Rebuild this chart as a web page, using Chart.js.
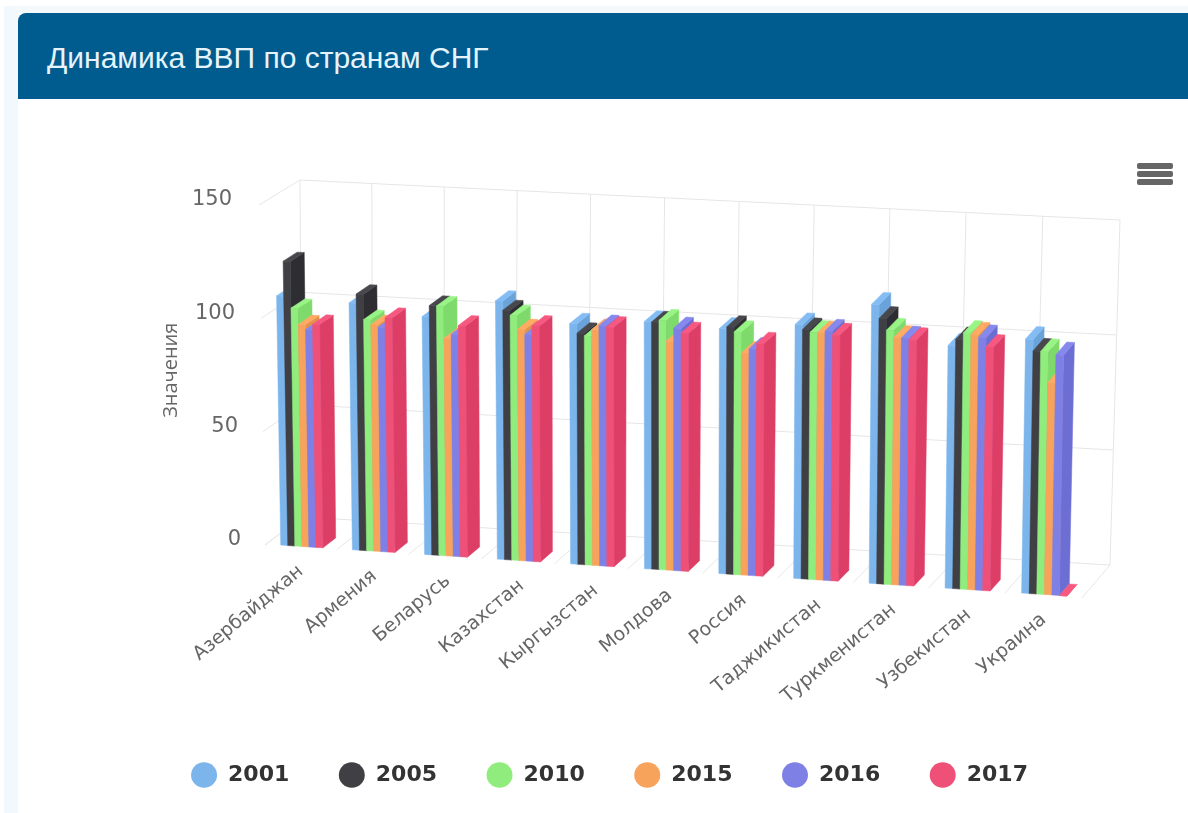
<!DOCTYPE html>
<html>
<head>
<meta charset="utf-8">
<title>Динамика ВВП по странам СНГ</title>
<script src="https://cdn.jsdelivr.net/npm/chart.js@4"></script>
<style>
    html, body { margin: 0; padding: 0; background: #fff; overflow: hidden; }
    #page { position: relative; width: 1188px; height: 813px; overflow: hidden; }
    #topband { position: absolute; left: 4px; top: 6px; width: 1184px; height: 7px; background: #f6f9fc; }
    #strip { position: absolute; left: 4px; top: 6px; width: 14px; height: 807px; background: #f1f8fe; }
    #header { position: absolute; left: 18px; top: 13px; width: 1170px; height: 86px; background: #005b8f; border-top-left-radius: 8px; }
    #title { position: absolute; left: 29px; top: 28px; font: 30px "Liberation Sans", Arial, sans-serif; color: #e6f3fa; white-space: nowrap; }
    #chartBox { position: absolute; left: 0; top: 0; width: 1188px; height: 813px; }
    #menu { position: absolute; left: 1137px; top: 163px; width: 36px; }
    #menu div { height: 5.5px; margin-bottom: 2.5px; background: #666; border-radius: 2px; }
</style>
</head>
<body>
<div id="page">
    <div id="topband"></div>
    <div id="strip"></div>
    <div id="chartBox"><canvas id="chartStatistics"></canvas></div>
    <div id="header"><div id="title">Динамика ВВП по странам СНГ</div></div>
    <div id="menu"><div></div><div></div><div></div></div>
</div>
<script>
const countries = ["Азербайджан", "Армения", "Беларусь", "Казахстан", "Кыргызстан", "Молдова", "Россия", "Таджикистан", "Туркменистан", "Узбекистан", "Украина"];
const years = ["2001", "2005", "2010", "2015", "2016", "2017"];
const values2001 = [110, 109, 105, 114, 106, 109, 108, 112, 123, 107, 112];
const values2005 = [125.5, 113, 110, 110, 102, 109, 109, 110, 117, 110, 107];
const values2010 = [105, 102, 110, 108, 101, 110, 107, 109, 112, 113, 107];
const values2015 = [98, 100, 96, 102, 104, 101, 98, 109, 109, 112.5, 93.5];
const values2016 = [96, 99, 98, 100, 106, 107, 100, 110, 109, 111.5, 106];
const values2017 = [98.5, 103.5, 102, 104, 105.5, 105, 102.5, 108.5, 108.5, 107.5, 0];
const yearColors = ["#7cb5ec", "#3f3f44", "#90ed7d", "#f7a35c", "#7f80e6", "#ee5078"];
const yTicks = [0, 50, 100, 150];

// corners of the 3d box as it lands on the picture, everything else goes through project()
const box = {
    frontBottomLeft: [265, 545], frontBottomRight: [1082, 598],
    backBottomLeft: [302, 517], backBottomRight: [1110, 565],
    frontTopLeft: [259, 205], frontTopRight: [1088, 258],
    backTopLeft: [300, 180], backTopRight: [1120, 220]
};
const barDepthStart = 0.03;
const barDepthEnd = 0.38;
const perspective = 0.04;

function mix(a, b, t) {
    return [a[0] + (b[0] - a[0]) * t, a[1] + (b[1] - a[1]) * t];
}

// u along the categories, w up the value axis, d from front to back, all 0..1
function project(u, w, d) {
    // columns sit closer together on the far left side
    const s = u - perspective * u * (1 - u);
    const frontBottom = mix(box.frontBottomLeft, box.frontBottomRight, s);
    const frontTop = mix(box.frontTopLeft, box.frontTopRight, s);
    const backBottom = mix(box.backBottomLeft, box.backBottomRight, s);
    const backTop = mix(box.backTopLeft, box.backTopRight, s);
    return mix(mix(frontBottom, frontTop, w), mix(backBottom, backTop, w), d);
}

function shade(hex, amount) {
    const n = parseInt(hex.slice(1), 16);
    const parts = [n >> 16, (n >> 8) & 255, n & 255].map(function (c) {
        return Math.max(0, Math.min(255, Math.round(c + 255 * amount)));
    });
    return "rgb(" + parts.join(",") + ")";
}

function face(ctx, points, color) {
    ctx.beginPath();
    points.forEach(function (p, i) {
        if (i === 0) ctx.moveTo(p[0], p[1]); else ctx.lineTo(p[0], p[1]);
    });
    ctx.closePath();
    ctx.fillStyle = color;
    ctx.strokeStyle = color;
    ctx.lineWidth = 0.5;
    ctx.fill();
    ctx.stroke();
}

function line(ctx, a, b) {
    ctx.beginPath();
    ctx.moveTo(a[0], a[1]);
    ctx.lineTo(b[0], b[1]);
    ctx.stroke();
}

const box3d = {
    id: "box3d",
    beforeDraw(chart) {
        const area = chart.chartArea;
        const xScale = chart.scales.x;
        const yScale = chart.scales.y;
        // tick labels follow the tilted frame
        xScale.getLabelItems().forEach(function (item, i) {
            const u = (xScale.getPixelForTick(i) - area.left) / (area.right - area.left);
            const p = project(u + 0.025 * u * (1 - u), 0, 0);
            item.options.translation = [p[0] - 8, p[1] + 13];
        });
        yScale.getLabelItems().forEach(function (item, i) {
            const w = (area.bottom - yScale.getPixelForTick(i)) / (area.bottom - area.top);
            const p = project(0, w, 0);
            item.options.translation = [area.left - 27 - w * 9, p[1] - 5];
        });
    },
    beforeDatasetsDraw(chart) {
        const ctx = chart.ctx;
        const area = chart.chartArea;
        const yScale = chart.scales.y;
        const toU = function (px) { return (px - area.left) / (area.right - area.left); };
        const toW = function (py) { return (area.bottom - py) / (area.bottom - area.top); };

        ctx.save();
        ctx.strokeStyle = "#e6e6e6";
        ctx.lineWidth = 1;
        yTicks.forEach(function (tick) {
            const w = toW(yScale.getPixelForValue(tick));
            line(ctx, project(0, w, 0), project(0, w, 1));
            line(ctx, project(0, w, 1), project(1, w, 1));
        });
        for (let i = 0; i <= countries.length; i++) {
            const u = i / countries.length;
            line(ctx, project(u, 0, 1), project(u, 1, 1));
            line(ctx, project(u, 0, 0), project(u, 0, 1));
        }

        countries.forEach(function (name, index) {
            chart.data.datasets.forEach(function (dataset, datasetIndex) {
                const bar = chart.getDatasetMeta(datasetIndex).data[index];
                const u0 = toU(bar.x - bar.width / 2);
                const u1 = toU(bar.x + bar.width / 2);
                const w = toW(bar.y);
                const color = dataset.backgroundColor;
                face(ctx, [project(u1, 0, barDepthStart), project(u1, w, barDepthStart), project(u1, w, barDepthEnd), project(u1, 0, barDepthEnd)], shade(color, -0.07));
                face(ctx, [project(u0, 0, barDepthStart), project(u1, 0, barDepthStart), project(u1, w, barDepthStart), project(u0, w, barDepthStart)], color);
                face(ctx, [project(u0, w, barDepthStart), project(u1, w, barDepthStart), project(u1, w, barDepthEnd), project(u0, w, barDepthEnd)], shade(color, 0.03));
            });
        });
        ctx.restore();
        return false;
    }
};

const seriesValues = [values2001, values2005, values2010, values2015, values2016, values2017];

const configBarChart = {
    type: "bar",
    data: {
        labels: countries,
        datasets: years.map(function (year, i) {
            return {
                label: year,
                data: seriesValues[i],
                backgroundColor: yearColors[i],
                borderWidth: 0,
                categoryPercentage: 0.59,
                barPercentage: 1
            };
        })
    },
    options: {
        responsive: false,
        animation: false,
        layout: { padding: { left: 134, right: 103, top: 212, bottom: 17 } },
        plugins: {
            tooltip: { enabled: false },
            legend: {
                position: "bottom",
                labels: {
                    usePointStyle: true,
                    pointStyle: "circle",
                    boxHeight: 18,
                    pointStyleWidth: 26,
                    padding: 49.5,
                    color: "#333333",
                    font: { family: "DejaVu Sans", size: 22, weight: "bold" }
                }
            }
        },
        scales: {
            x: {
                grid: { display: false },
                border: { display: false },
                afterFit(scale) { scale.height = 186; },
                ticks: {
                    autoSkip: false,
                    minRotation: 40,
                    maxRotation: 40,
                    color: "#666666",
                    font: { family: "DejaVu Sans", size: 19 }
                }
            },
            y: {
                min: 0,
                max: 150,
                grid: { display: false },
                border: { display: false },
                afterFit(scale) { scale.width = 134; },
                title: {
                    display: true,
                    text: "Значения",
                    color: "#666666",
                    padding: { top: 25, bottom: 0 },
                    font: { family: "Open Sans", size: 20 }
                },
                ticks: {
                    stepSize: 50,
                    color: "#666666",
                    font: { family: "DejaVu Sans", size: 21 }
                }
            }
        }
    },
    plugins: [box3d]
};

const chartElement = document.getElementById("chartStatistics");
chartElement.width = 1188;
chartElement.height = 813;
var chartBar = new Chart(chartElement, configBarChart);
</script>
</body>
</html>
